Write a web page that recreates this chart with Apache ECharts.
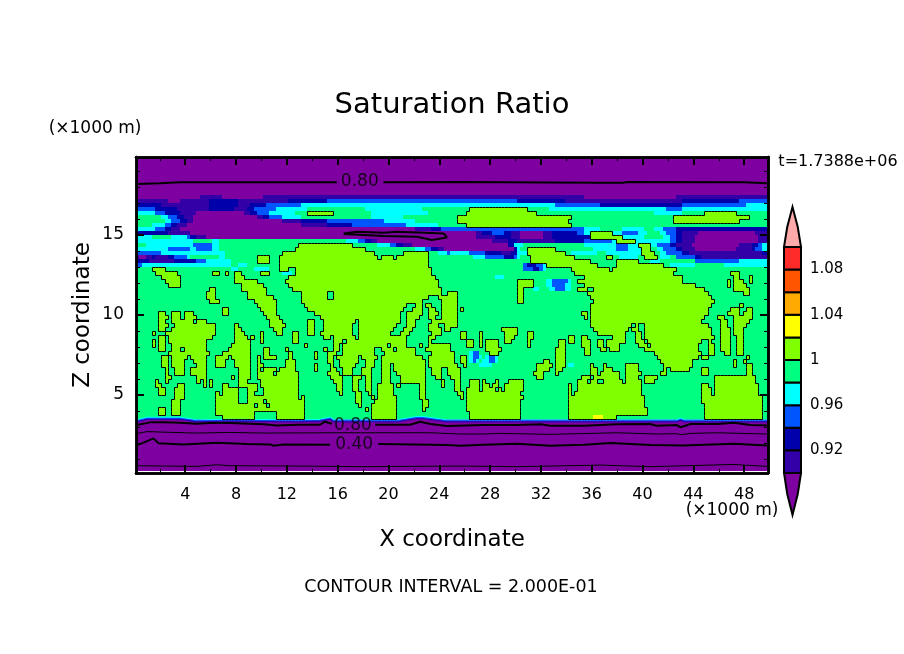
<!DOCTYPE html>
<html><head><meta charset="utf-8">
<style>html,body{margin:0;padding:0;background:#fff}#c{width:904px;height:654px}</style>
<script src="https://cdn.jsdelivr.net/npm/echarts@6/dist/echarts.min.js"></script>
</head><body><div id="c"></div>
<script>
// Field: one entry per z level (top to bottom), "letter+start column" runs, 199 columns of 0.25 km.
const levelLetters = 'abcdefgh';
const levelValues = [0.89, 0.91, 0.93, 0.95, 0.97, 0.99, 1.01, 1.03];
const fieldRows = [
"a0","a0","a0","a0","a0","a0","a0","a0","a0","a0",
"a0 b20 a27 b40 a141 b170",
"b0 a10 b14 c23 b32 c48 d60 c120 b135 c172 d190",
"c0 b8 c23 b32 c36 d41 e52 d132 c146 d172 e192",
"d0 c6 b13 c23 b31 c35 d37 e44 f54 e72 f90 g105 f123 e130 d167 e172",
"e0 d6 c9 b14 a19 b34 c36 d38 e42 f50 g54 f62 e74 f92 g104 f126 e163 f172 g179 f189",
"f0 e8 d10 c13 b15 a18 b38 c40 d42 e46 f52 e74 f84 g101 f137 g169 f193",
"f0 e9 d11 c14 b16 a18 b46 c52 d60 e78 f88 g101 f136 g169 f190",
"f0 e5 d9 c11 b13 a16 b52 c60 d68 e85 f95 g104 f137",
"e0 d6 c9 b11 a14 b88 c93 d96 e141 f146 e153 f160 e163 d166 c170",
"c0 b10 a17 b107 c109 d112 c116 b118 a121 b128 c131 d139 e141 g143 e150 d153 e158 f161 e165 d167 c170 b172 a177 b195",
"e0 f5 e11 d16 c17 b19 a22 b107 c113 b118 a121 b128 c131 g143 e153 f160 e166 d168 c170 b172 a176 b196",
"e0 f18 e24 f26 e66 d70 c72 b74 a76 b112 c117 b120 c132 d141 e150 g151 e157 d168 c170 b172 a176 b196",
"f0 e3 d18 e24 f26 g51 f68 e76 d80 c82 b84 a87 c117 e119 f122 e141 d151 e155 g158 e162 d164 c168 b170 a175 b190 c194 d196 e197",
"e0 d10 e17 d19 e24 f26 g50 f72 e88 d91 c93 b95 a97 c119 e120 f121 g123 f132 e144 d151 e155 g159 f162 e164 d166 c170 b172 a176 b189 c194 d195 e197",
"d0 e8 f28 g46 f75 g84 f92 e95 d98 e99 d105 c110 b115 c118 e120 g123 f135 e137 f145 e148 g159 f163 e165 d167 c172 b174 c197",
"b0 a1 b3 c5 b6 c10 d12 e16 f17 e26 f28 g38 f42 g45 f76 g77 f81 g82 f92 e106 d110 c116 d119 e120 f121 g124 f138 g148 f150 e152 f158 g160 f164 e165 f168 d170 c176 b178",
"c0 b4 c12 d19 e22 f30 g38 f42 g45 f92 g124 f143 g151 f158 e162 f165 d176 e190",
"d0 e2 f30 e32 f35 g45 f92 d122 c123 d126 e128 g129 f145 g151 f166 e168 f176 e185",
"f0 g5 f9 e30 f32 e37 f42 g45 f48 g50 f93 d122 c125 d127 e128 f129 g137 f149 g150 f170",
"f0 g6 f13 g24 f26 g28 f29 g31 f33 g39 f42 e46 f49 g50 f93 g138 f169 g187 f190",
"f0 g8 f14 g31 f34 g48 f94 e113 f116 g141 f172 g188 f190 g193 f194",
"f0 g9 f14 g31 f38 g47 f95 g120 f125 e129 d131 e136 f137 g139 f172 g186 f187 g188 f191 g193 f194",
"f0 g10 f14 g33 f40 g48 f95 g120 f125 e129 d131 e135 f137 g141 f176 g186 f187 g188 f192",
"f0 g23 f25 g33 f41 g49 f96 g120 f122 e125 f127 e130 d132 e135 f137 g139 f142 g144 f179 g188 f193",
"f0 g22 f25 g35 f41 g52 f60 g62 f96 g98 f101 g120 f122 g142 f180 g191 f193",
"f0 g22 f25 g35 f43 g52 f60 g62 f92 g95 f101 g120 f122 g143 f181",
"f0 g23 f26 g37 f44 g52 f90 g96 f101 g120 f122 g144 f182",
"f0 g38 f44 g53 f85 g88 f90 g91 f93 g96 f101 g143 f181 g190 f191",
"f0 g27 f29 g39 f44 g54 f84 g87 f90 g92 f94 g96 f101 g102 f103 g143 f180 g187 f190 g192 f194",
"f0 g7 f9 g11 f14 g15 f18 g27 f29 g40 f44 g56 f83 g85 f90 g92 f95 g96 f101 g140 f142 g143 f180 g186 f190 g191 f194",
"f0 g7 f10 g11 f14 g15 f19 g41 f45 g58 f83 g85 f89 g92 f94 g96 f101 g141 f142 g143 f179 g183 f185 g188 f194",
"f0 g7 f9 g11 f18 g19 f22 g42 f46 g54 f56 g59 f69 g70 f83 g85 f88 g93 f101 g143 f178 g184 f186 g188 f193",
"f0 g7 f10 g12 f25 g31 f32 g42 f47 g54 f56 g59 f68 g70 f82 g85 f88 g92 f95 g97 f101 g143 f156 g157 f158 g160 f180 g184 f186 g188 f192",
"f0 g7 f9 g11 f25 g31 f33 g43 f46 g54 f56 g59 f68 g70 f81 g84 f87 g92 f96 g97 f99 g115 f120 g144 f155 g156 f158 g160 f181 g184 f187 g188 f191",
"f0 g5 f6 g9 f25 g31 f34 g39 f40 g44 f46 g49 f51 g54 f56 g58 f68 g70 f80 g83 f86 g93 f96 g102 f104 g108 f109 g116 f120 g123 f125 g145 f154 g157 f159 g160 f181 g184 f187 g188 f191",
"f0 g7 f9 g10 f24 g31 f35 g36 f37 g39 f40 g49 f51 g59 f61 g62 f69 g70 f85 g92 f94 g102 f104 g108 f109 g116 f119 g123 f125 g136 f138 g140 f142 g150 f154 g157 f159 g160 f182 g184 f187 g189 f191",
"f0 g5 f6 g7 f9 g10 f22 g31 f36 g39 f40 g49 f51 g62 f65 g66 f85 g92 f93 g104 f106 g108 f109 g110 f114 g116 f118 g123 f124 g133 f135 g136 f138 g140 f143 g145 f147 g148 f154 g157 f160 g161 f178 g180 f181 g184 f187 g189 f191",
"f0 g5 f6 g7 f9 g11 f22 g30 f36 g53 f54 g62 f64 g65 f79 g80 f85 g89 f90 g92 f99 g104 f106 g108 f109 g110 f114 g123 f124 g133 f135 g140 f143 g145 f147 g148 f152 g158 f161 g162 f177 g180 f182 g184 f187 g189 f191",
"f0 g7 f9 g11 f14 g15 f22 g29 f36 g40 f42 g47 f48 g59 f60 g62 f64 g65 f75 g77 f81 g82 f88 g91 f99 g110 f115 g132 f135 g141 f143 g146 f148 g149 f152 g160 f177 g180 f182 g184 f187 g189 f191",
"f0 g10 f23 g27 f36 g40 f42 g48 f49 g56 f57 g60 f63 g65 f75 g78 f88 g93 f100 e105 d106 f108 g111 f114 g132 f135 g141 f143 g163 f178 g180 f182 g185 f187 g189 f191",
"f0 g8 f10 g11 f16 g17 f22 g25 f29 g30 f36 g38 f39 g40 f44 g48 f49 g56 f57 g60 f62 g63 f70 g71 f76 g77 f90 g92 f100 g102 f104 e105 d106 e108 f109 e110 d111 e113 f114 g132 f135 g164 f177 g178 f180 g192 f193",
"f0 g8 f10 g11 f15 g18 f22 g25 f28 g31 f36 g38 f39 g47 f50 g60 f62 g64 f70 g72 f75 g77 f91 g92 f100 g102 f104 e105 d106 e107 f108 e109 d111 e113 f114 g128 f130 g132 f135 g165 f175 g188 f189 g191 f192",
"f0 g8 f10 g11 f15 g19 f22 g25 f28 g31 f36 g38 f40 g47 f50 g56 f57 g61 f62 g64 f69 g72 f75 g77 f80 g81 f91 g92 f101 g103 f104 e108 f112 g126 f131 g132 f135 e136 f138 g143 f144 g147 f148 g154 f158 g166 f175 g188 f189 g192 f194",
"f0 g9 f10 g12 f15 g17 f22 g32 f36 g38 f39 g40 f44 g45 f50 g56 f57 g61 f63 g65 f68 g71 f74 g77 f80 g81 f91 g93 f96 g98 f102 g126 f130 g132 f134 g143 f145 g147 f150 g154 f158 g166 f167 g168 f174 g178 f180 g192 f194",
"f0 g9 f10 g12 f15 g17 f22 g32 f36 g38 f43 g44 f51 g60 f64 g65 f68 g71 f74 g77 f80 g82 f91 g93 f96 g98 f102 g125 f128 g132 f133 g143 f145 g146 f152 g154 f159 g165 f167 g178 f180 g192 f194",
"f0 g9 f11 g19 f22 g30 f31 g32 f36 g38 f51 g61 f65 g68 f71 g72 f74 g77 f80 g83 f91 g94 f96 g99 f102 g126 f128 g140 f143 g144 f152 g154 f158 g160 f164 g182 f195",
"f0 g6 f7 g9 f10 g19 f20 g21 f22 g23 f24 g32 f35 g39 f51 g62 f65 g68 f70 g72 f74 g77 f80 g83 f91 g96 f97 g100 f102 g105 f108 g109 f110 g113 f114 g117 f122 g139 f142 g143 f145 g147 f153 g154 f159 g160 f163 g182 f195",
"f0 g6 f8 g13 f15 g21 f22 g23 f24 g27 f29 g32 f38 g39 f51 g63 f65 g68 f70 g72 f74 g76 f81 g82 f83 g89 f91 g96 f97 g100 f102 g105 f108 g109 f111 g112 f114 g116 f122 g136 f137 g139 f159 g178 f180 g182 f196",
"f0 g7 f9 g12 f15 g27 f32 g35 f38 g40 f51 g63 f65 g68 f70 g72 f74 g76 f81 g89 f91 g100 f102 g104 f108 g109 f113 g114 f115 g116 f122 g136 f137 g139 f159 g178 f181 g182 f196",
"f0 g7 f9 g12 f15 g25 f26 g27 f32 g35 f37 g40 f51 g64 f65 g69 f71 g73 f74 g76 f81 g89 f91 g101 f103 g104 f121 g136 f137 g138 f159 g178 f181 g182 f196",
"f0 g12 f15 g25 f32 g35 f51 g52 f53 g69 f71 g74 f75 g76 f82 g89 f91 g102 f103 g104 f122 g136 f160 g178 f197",
"f0 g11 f14 g25 f32 g35 f40 g41 f53 g69 f71 g75 f82 g90 f92 g104 f121 g136 f160 g178 f197",
"f0 g11 f14 g25 f37 g38 f41 g42 f53 g70 f71 g74 f82 g90 f92 g104 f121 g136 f160 g179 f197",
"f0 g7 f9 g11 f14 g25 f53 g72 f73 g74 f82 g90 f91 g104 f121 g136 f161 g179 f197",
"f0 g7 f9 g11 f14 g25 f37 g44 f53 g74 f82 g105 f121 g136 f161 g179 f197",
"f0 g27 f37 g44 f53 g74 f82 g105 f121 g136 h144 g147 f151 g179 f197",
"a0","a0","a0","a0","a0","a0","a0","a0","a0","a0","a0","a0","a0"
];

// Contour lines [x km, z km], null = gap for the inline label
const line080Top = [[0.2,18.19],[2.03,18.23],[3.6,18.29],[12.8,18.29],[15.94,18.29],null,[19.6,18.29],[25.65,18.31],[36.2,18.27],[38.5,18.27],[38.8,18.31],[48,18.29],[49.8,18.23]];
const line080Loop = [[16.47,15.1],[17.52,15.21],[19.62,15.14],[20.67,15.21],[24.34,15.1],[24.6,14.85],[23.42,14.69],[22.24,14.89],[19.62,14.94],[18.04,15],[16.47,15.06],[16.47,15.1]];
const line080Low = [[0.2,3.12],[1.24,3.29],[2.3,3.29],[3.6,3.27],[4.9,3.21],[5.97,3.25],[7.5,3.25],[10.2,3.17],[11.2,3.1],[12.8,3.14],[14.6,3.14],[15,3.33],[15.55,3.2],null,[18.96,3.14],[21.7,3.14],[22.5,3.33],[23.3,3.19],[24.6,3.06],[27.5,3.12],[30.1,3.12],[32,3.17],[32.7,3.08],[35.4,3.08],[38,3.17],[40.6,3.19],[41.1,3.08],[42.7,3.12],[43,2.98],[43.8,3.19],[45.9,3.19],[47.2,3.27],[48.5,3.12],[49.8,3.1]];
const line060 = [[0.2,2.6],[1,2.71],[4.9,2.62],[7.5,2.66],[10.2,2.62],[15.4,2.64],[20.7,2.64],[23.3,2.64],[25.65,2.56],[27.5,2.56],[28.8,2.6],[32.7,2.54],[38,2.64],[41.1,2.56],[42.7,2.58],[43,2.52],[43.8,2.6],[45.9,2.64],[49.8,2.56]];
const line040 = [[0.2,1.87],[0.72,2.02],[1.5,2.29],[1.9,1.98],[3.87,1.91],[6.5,2.02],[8.85,1.94],[10.7,1.91],[10.95,1.83],[11.75,1.91],[15.4,1.89],null,[19.2,1.94],[22,1.91],[24.6,1.87],[25.65,1.83],[27.5,1.89],[30.1,1.96],[32.7,1.83],[35.4,1.89],[37.5,2],[40.6,1.87],[43.2,1.85],[47.2,1.96],[49.8,1.85]];
const line020 = [[0.2,0.58],[4.9,0.54],[6.5,0.64],[7.5,0.58],[12.8,0.56],[18,0.52],[25.65,0.56],[30.1,0.52],[36.7,0.62],[40.6,0.52],[47.2,0.66],[49.8,0.54]];
const contourLabels = [[17.74,18.33,'0.80'],[17.2,3.12,'0.80'],[17.3,1.93,'0.40']];

// Thin coloured fringe at the bottom of the green area
const fringeCyan = [[0.2,3.44],[1,3.6],[3.6,3.6],[4.9,3.44],[7.5,3.48],[12.8,3.44],[14.6,3.48],[15.4,3.6],[15.7,3.44],[20.7,3.44],[22.2,3.64],[22.7,3.64],[24.6,3.44],[42.7,3.44],[43,3.54],[43.3,3.44],[49.8,3.44]];
const fringeBlue = [[0.2,3.38],[1,3.54],[3.6,3.54],[4.9,3.38],[7.5,3.42],[12.8,3.38],[14.6,3.42],[15.4,3.54],[15.7,3.38],[20.7,3.38],[22.2,3.58],[22.7,3.58],[24.6,3.38],[42.7,3.38],[43,3.48],[43.3,3.38],[49.8,3.38]];
const fringeNavy = [[0.2,3.32],[1,3.48],[3.6,3.48],[4.9,3.32],[7.5,3.36],[12.8,3.32],[14.6,3.36],[15.4,3.48],[15.7,3.32],[20.7,3.32],[22.2,3.52],[22.7,3.52],[24.6,3.32],[42.7,3.32],[43,3.42],[43.3,3.32],[49.8,3.32]];

// Axes
const xMajorTicks = [4,8,12,16,20,24,28,32,36,40,44,48];
const xMinorTicks = [2,6,10,14,18,22,26,30,34,38,42,46];
const zMajorTicks = [5,10,15];
const zMinorTicks = [1,2,3,4,6,7,8,9,11,12,13,14,16,17,18,19];

// Colour key
const keyBounds = [0.90,0.92,0.94,0.96,0.98,1.00,1.02,1.04,1.06,1.08,1.10];
const keyColors = ['#3300A8','#0000AA','#0055FF','#00FFFF','#00FF80','#80FF00','#FFFF00','#FFAA00','#FF5500','#FF2A2A'];
const keyLow = '#7F00A0', keyHigh = '#FFAAAA';
const keyTicks = [0.92,0.96,1,1.04,1.08];
const keyTickLabels = ['0.92','0.96','1','1.04','1.08'];
const keyArrowLow = 0.8628, keyArrowHigh = 1.1354;

const FONT = '"DejaVu Sans"';
const NCOL = 199, Z_TOP = 19.875, X_LEFT = 0.125, X_RIGHT = 49.875, STEP = 0.25;

function colorOf(v){
  if (v < keyBounds[0]) return keyLow;
  for (let i=0;i<keyColors.length;i++) if (v < keyBounds[i+1]) return keyColors[i];
  return keyHigh;
}
// Expand rows
const grid = fieldRows.map(s=>{
  const a = new Array(NCOL).fill(0);
  const toks = s.split(' ');
  toks.forEach((t,i)=>{
    const st = +t.slice(1), en = i+1<toks.length ? +toks[i+1].slice(1) : NCOL;
    const v = levelValues[levelLetters.indexOf(t[0])];
    for (let c=st;c<en && c<NCOL;c++) a[c]=v;
  });
  return a;
});
const zTopOf = r => Z_TOP + STEP/2 - r*STEP;
const xOf = c => X_LEFT + c*STEP;
const cells = [], edges = [];
grid.forEach((a,r)=>{
  let st=0;
  for (let c=1;c<=NCOL;c++){
    if (c===NCOL || a[c]!==a[st]){ cells.push([xOf(st),xOf(c),zTopOf(r),zTopOf(r+1),a[st]]); st=c; }
  }
  for (let c=0;c<NCOL;c++){
    const inside = a[c]>=1;
    if (c+1<NCOL && inside !== (a[c+1]>=1)) edges.push([xOf(c+1),zTopOf(r),xOf(c+1),zTopOf(r+1)]);
    if (r+1<grid.length && inside !== (grid[r+1][c]>=1)) edges.push([xOf(c),zTopOf(r+1),xOf(c+1),zTopOf(r+1)]);
  }
});

const keyCells = keyColors.map((col,i)=>[keyBounds[i],keyBounds[i+1],col]);

function lineSeries(data,width,color,z){
  return {type:'line',data,xAxisIndex:0,yAxisIndex:0,symbol:'none',silent:true,animation:false,connectNulls:false,clip:true,
    lineStyle:{color:color||'#000',width},z:z||6};
}
function xAx(pos,len,vals,labels){
  return {type:'value',gridIndex:0,position:pos,min:X_LEFT,max:X_RIGHT,z:10,splitLine:{show:false},
    axisLine:{show:true,onZero:false,lineStyle:{color:'#000',width:2.5}},
    axisTick:{show:true,inside:true,length:len,customValues:vals,lineStyle:{color:'#000',width:len>5?2:1}},
    axisLabel:labels?{show:true,customValues:vals,color:'#000',fontFamily:FONT,fontSize:16,margin:14}:{show:false}};
}
function zAx(pos,len,vals,labels){
  return {type:'value',gridIndex:0,position:pos,min:0.125,max:Z_TOP,z:10,splitLine:{show:false},
    axisLine:{show:true,onZero:false,lineStyle:{color:'#000',width:2.5}},
    axisTick:{show:true,inside:true,length:len,customValues:vals,lineStyle:{color:'#000',width:len>5?2:1}},
    axisLabel:labels?{show:true,customValues:vals,color:'#000',fontFamily:FONT,fontSize:17,margin:12}:{show:false}};
}
const txt=(x,y,t,size)=>({type:'text',x,y,silent:true,z:20,
  style:{text:t,fill:'#000',font:size+'px '+FONT,textAlign:'center',textVerticalAlign:'middle'}});

const chart = echarts.init(document.getElementById('c'),null,{renderer:'canvas'});
chart.setOption({
  animation:false,backgroundColor:'#fff',
  grid:[{left:136,top:157,width:632,height:316},{left:784,top:207,width:17,height:308}],
  xAxis:[xAx('bottom',8,xMajorTicks,true),xAx('top',8,xMajorTicks,false),xAx('bottom',4,xMinorTicks,false),xAx('top',4,xMinorTicks,false),
    {type:'value',gridIndex:1,min:0,max:1,show:false}],
  yAxis:[zAx('left',8,zMajorTicks,true),zAx('right',8,zMajorTicks,false),zAx('left',4,zMinorTicks,false),zAx('right',4,zMinorTicks,false),
    {type:'value',gridIndex:1,position:'right',min:keyArrowLow,max:keyArrowHigh,splitLine:{show:false},
      axisLine:{show:false},axisTick:{show:false},
      axisLabel:{show:true,customValues:keyTicks,margin:9,color:'#000',fontFamily:FONT,fontSize:15,
        formatter:v=>keyTickLabels[keyTicks.findIndex(t=>Math.abs(t-v)<1e-6)]||''}}],
  series:[
    {type:'custom',xAxisIndex:0,yAxisIndex:0,silent:true,clip:true,progressive:0,animation:false,z:2,
      data:cells,encode:{x:[0,1],y:[2,3]},
      renderItem(p,api){
        const a=api.coord([api.value(0),api.value(2)]),b=api.coord([api.value(1),api.value(3)]);
        const x=Math.round(a[0]),y=Math.round(a[1]);
        return {type:'rect',shape:{x,y,width:Math.round(b[0])-x,height:Math.round(b[1])-y},style:{fill:colorOf(api.value(4))}};
      }},
    {type:'custom',xAxisIndex:0,yAxisIndex:0,silent:true,clip:true,progressive:0,animation:false,z:5,
      data:edges,encode:{x:[0,2],y:[1,3]},
      renderItem(p,api){
        const a=api.coord([api.value(0),api.value(1)]),b=api.coord([api.value(2),api.value(3)]);
        return {type:'line',shape:{x1:Math.round(a[0])+.5,y1:Math.round(a[1])+.5,x2:Math.round(b[0])+.5,y2:Math.round(b[1])+.5},
          style:{stroke:'#000',lineWidth:1}};
      }},
    lineSeries(fringeCyan,1.3,'#00FFFF',3),lineSeries(fringeBlue,1.3,'#0055FF',3),lineSeries(fringeNavy,1.3,'#3300A8',3),
    lineSeries(line080Top,2),lineSeries(line080Loop,2),lineSeries(line080Low,2),lineSeries(line040,2),
    lineSeries(line060,1),lineSeries(line020,1),
    {type:'scatter',xAxisIndex:0,yAxisIndex:0,symbolSize:0,silent:true,animation:false,z:7,data:contourLabels,
      label:{show:true,position:'inside',formatter:p=>p.value[2],color:'#000',fontFamily:FONT,fontSize:17}},
    {type:'custom',xAxisIndex:4,yAxisIndex:4,silent:true,animation:false,z:2,data:keyCells,encode:{y:[0,1]},
      renderItem(p,api){
        const a=api.coord([0,api.value(0)]),b=api.coord([1,api.value(1)]);
        return {type:'rect',shape:{x:a[0],y:b[1],width:b[0]-a[0],height:a[1]-b[1]},
          style:{fill:keyCells[p.dataIndex][2],stroke:'#000',lineWidth:2}};
      }},
    {type:'custom',xAxisIndex:4,yAxisIndex:4,silent:true,animation:false,z:2,data:[[keyArrowLow,keyBounds[0],keyLow],[keyArrowHigh,keyBounds[10],keyHigh]],encode:{y:[0,1]},
      renderItem(p,api){
        const tip=api.value(0),base=api.value(1),mid=(tip+base)/2;
        const pts=[[0,base],[0.19,mid],[0.5,tip],[0.81,mid],[1,base]].map(q=>api.coord(q));
        return {type:'polygon',shape:{points:pts},style:{fill:p.dataIndex?keyHigh:keyLow,stroke:'#000',lineWidth:2}};
      }}
  ],
  graphic:{elements:[
    txt(452,105,'Saturation Ratio',29),
    txt(95,129,'(×1000 m)',17),
    txt(732,511,'(×1000 m)',17),
    txt(452,540,'X coordinate',23),
    txt(451,587,'CONTOUR INTERVAL = 2.000E-01',17.5),
    txt(838,162,'t=1.7388e+06',16),
    {type:'text',x:83,y:315,rotation:Math.PI/2,silent:true,z:20,
      style:{text:'Z coordinate',fill:'#000',font:'23px '+FONT,textAlign:'center',textVerticalAlign:'middle'}}
  ]}
});
</script></body></html>
